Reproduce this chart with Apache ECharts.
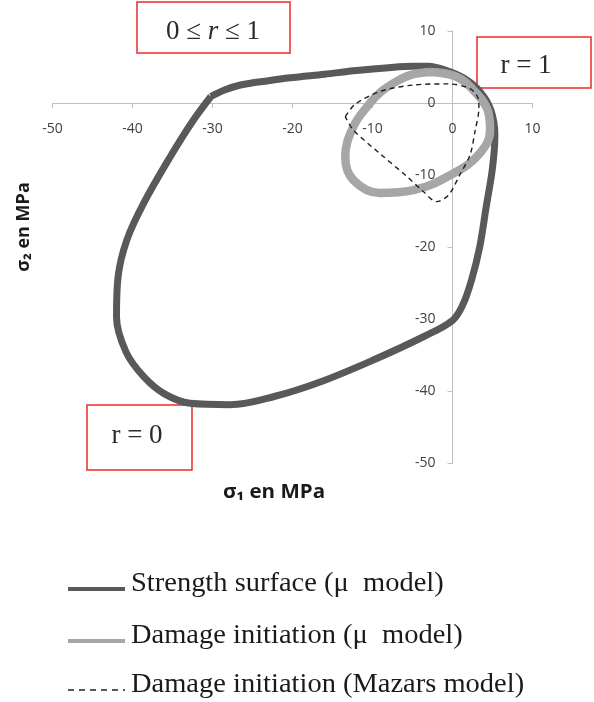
<!DOCTYPE html>
<html>
<head>
<meta charset="utf-8">
<script src="https://cdn.jsdelivr.net/npm/echarts@6/dist/echarts.min.js"></script>
<style>
  html, body { margin: 0; padding: 0; background: #ffffff; }
  #chart { width: 594px; height: 702px; }
</style>
</head>
<body>
<div id="chart"></div>
<script>
// Biaxial stress envelopes, sigma1 / sigma2 in MPa.
var xTicks = [-50, -40, -30, -20, -10, 0, 10];
var yTicks = [-50, -40, -30, -20, -10, 0, 10];

// Strength surface (mu model), closed loop starting at the r = 0..1 corner
var strengthSigma1 = [-30.2, -28.5, -26.5, -23.0, -20.3, -16.0, -12.0, -8.0, -5.0, -3.0, -1.0, 1.5, 3.5, 4.8, 5.3, 5.0, 4.2, 3.4, 2.4, 1.3, 0.0,
  -3.7, -9.9, -16.2, -22.4, -27.8, -32.8, -36.0, -38.6, -40.8, -42.0, -41.8, -40.7, -38.6, -35.3, -32.4, -30.2];
var strengthSigma2 = [0.9, 1.8, 2.5, 3.1, 3.5, 4.0, 4.5, 4.9, 5.1, 5.1, 4.6, 3.4, 1.5, -1.0, -4.5, -9.0, -14.5, -20.0, -24.5, -28.0, -30.2,
  -32.5, -35.7, -38.6, -40.8, -41.9, -41.7, -40.4, -38.0, -34.6, -29.7, -24.1, -19.0, -13.9, -7.5, -2.4, 0.9];

// Damage initiation (mu model)
var damageMuSigma1 = [-2.8, -5.2, -7.0, -8.9, -10.3, -12.4, -13.4, -12.4, -9.1, -4.9, 0.1, 3.4, 4.7, 4.4, 2.6, 0.5, -2.8];
var damageMuSigma2 = [4.3, 3.9, 3.0, 1.6, 0.0, -3.3, -7.5, -10.7, -12.5, -12.1, -9.8, -7.0, -3.75, -1.0, 1.8, 3.65, 4.3];

// Damage initiation (Mazars model)
var mazarsSigma1 = [-13.4, -12.2, -9.1, -4.9, -0.5, 2.2, 3.2, 3.3, 2.8, 2.2, 0.9, -0.5, -2.0, -3.65, -5.7, -9.1, -12.4, -13.4];
var mazarsSigma2 = [-1.9, -0.2, 1.6, 2.5, 2.65, 2.0, 0.65, -0.7, -4.0, -7.2, -10.0, -12.8, -13.7, -12.3, -10.2, -7.0, -3.75, -1.9];

var seriesNames = ['Strength surface (\u03bc  model)', 'Damage initiation (\u03bc  model)', 'Damage initiation (Mazars model)'];
var boxLabels = ['0 \u2264 r \u2264 1', 'r = 1', 'r = 0'];
var xTitle = '\u03c3\u2081 en MPa';
var yTitle = '\u03c3\u2082 en MPa';

function pairs(xs, ys) {
  var out = [];
  for (var i = 0; i < xs.length; i++) out.push([xs[i], ys[i]]);
  return out;
}

// plot area in pixels; both axes are drawn through the origin
var G = { left: 52.5, right: 532.5, top: 31, bottom: 463 };
var W = 594, H = 702;

var axisCol = '#bfbfbf';
var labelFont = { color: '#404040', fontFamily: 'Open Sans', fontSize: 14 };

function valueAxis(ticks, extra) {
  var a = {
    type: 'value',
    min: ticks[0],
    max: ticks[ticks.length - 1],
    interval: ticks[1] - ticks[0],
    splitLine: { show: false },
    axisLine: { show: true, onZero: false, lineStyle: { color: axisCol, width: 1 } },
    axisTick: { show: true, length: 5, lineStyle: { color: axisCol } },
    axisLabel: Object.assign({ margin: 19 }, labelFont)
  };
  return Object.assign(a, extra || {});
}

// pixel position of the value 0 on each axis, used to shift the axes onto the origin
function zeroOffsetY() {
  var t = (0 - yTicks[0]) / (yTicks[yTicks.length - 1] - yTicks[0]);
  return (G.bottom - G.top) * t;
}
function zeroOffsetX() {
  var t = (0 - xTicks[0]) / (xTicks[xTicks.length - 1] - xTicks[0]);
  return (G.right - G.left) * t;
}

var chart = echarts.init(document.getElementById('chart'), null, { renderer: 'canvas' });

function redBox(x, y, w, h, text, cx, cy) {
  return {
    type: 'group',
    children: [
      { type: 'rect', shape: { x: x, y: y, width: w, height: h },
        style: { fill: null, stroke: '#ee2a2a', lineWidth: 1.5 } },
      { type: 'text', x: cx, y: cy,
        style: { text: text, fill: '#2b2b2b', font: '27px "Liberation Serif"', align: 'center', verticalAlign: 'middle' } }
    ]
  };
}

var legendRows = [
  { y: 589, color: '#595959', width: 4, dash: null },
  { y: 641, color: '#a6a6a6', width: 4, dash: null },
  { y: 690, color: '#222222', width: 1.3, dash: [6, 5] }
];

var graphics = [];
graphics.push({
  type: 'group',
  children: [
    { type: 'rect', shape: { x: 137, y: 2, width: 153, height: 51 },
      style: { fill: null, stroke: '#ee2a2a', lineWidth: 1.5 } },
    { type: 'text', x: 213, y: 32,
      style: {
        text: '{n|0 \u2264 }{i|r}{n| \u2264 1}',
        align: 'center', verticalAlign: 'middle',
        rich: {
          n: { font: '27px "Liberation Serif"', fill: '#2b2b2b' },
          i: { font: 'italic 27px "Liberation Serif"', fill: '#2b2b2b' }
        }
      } }
  ]
});
graphics.push(redBox(477, 37, 114, 51, boxLabels[1], 526, 66));
graphics.push(redBox(87, 405, 105, 65, boxLabels[2], 137, 436));

graphics.push({ type: 'text', x: 274, y: 493, scaleX: 1.08,
  style: { text: xTitle, fill: '#1a1a1a', font: 'bold 19px "Open Sans"', align: 'center', verticalAlign: 'middle' } });
graphics.push({ type: 'text', x: 24, y: 227, rotation: Math.PI / 2,
  style: { text: yTitle, fill: '#1a1a1a', font: 'bold 18px "Open Sans"', align: 'center', verticalAlign: 'middle' } });

legendRows.forEach(function (r, i) {
  graphics.push({ type: 'line', shape: { x1: 68, y1: r.y, x2: 125, y2: r.y },
    style: { stroke: r.color, lineWidth: r.width, lineDash: r.dash } });
  graphics.push({ type: 'text', x: 131, y: r.y - 5, scaleX: 1.055,
    style: { text: seriesNames[i], fill: '#1a1a1a', font: '27px "Liberation Serif"', align: 'left', verticalAlign: 'middle' } });
});

chart.setOption({
  animation: false,
  backgroundColor: '#ffffff',
  grid: { left: G.left, right: W - G.right, top: G.top, bottom: H - G.bottom, containLabel: false },
  xAxis: valueAxis(xTicks, { position: 'bottom', offset: -zeroOffsetY() }),
  yAxis: valueAxis(yTicks, { position: 'left', offset: -zeroOffsetX(),
    axisLabel: Object.assign({ margin: 17 }, labelFont) }),
  series: [
    {
      name: seriesNames[0], type: 'line', smooth: 0.35, symbol: 'none',
      data: pairs(strengthSigma1, strengthSigma2),
      lineStyle: { color: '#595959', width: 7, join: 'round' }
    },
    {
      name: seriesNames[1], type: 'line', smooth: 0.4, symbol: 'none',
      data: pairs(damageMuSigma1, damageMuSigma2),
      lineStyle: { color: '#a6a6a6', width: 8.5, join: 'round' }
    },
    {
      name: seriesNames[2], type: 'line', smooth: 0.3, symbol: 'none',
      data: pairs(mazarsSigma1, mazarsSigma2),
      lineStyle: { color: '#1e1e1e', width: 1.4, type: [5, 4] }
    }
  ],
  graphic: graphics
});
</script>
</body>
</html>
